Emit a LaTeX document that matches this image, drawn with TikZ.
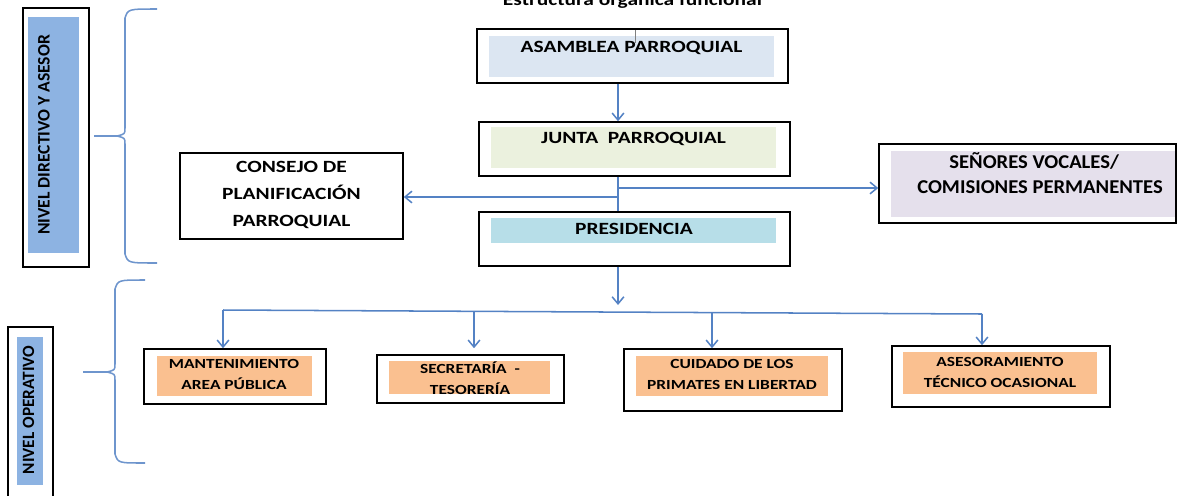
\documentclass[tikz,border=0pt]{standalone}
\usepackage{fontspec}
\setmainfont{Carlito}
\usetikzlibrary{arrows.meta}

\definecolor{azul}{RGB}{84,130,196}
\definecolor{nivel}{RGB}{141,179,226}
\definecolor{asamb}{RGB}{220,230,242}
\definecolor{junta}{RGB}{235,241,222}
\definecolor{presi}{RGB}{183,222,232}
\definecolor{vocal}{RGB}{229,224,236}
\definecolor{naranja}{RGB}{250,192,144}

\begin{document}
\begin{tikzpicture}[x=0.03cm, y=-0.03cm,
    caja/.style 2 args={draw=black, line width=1.3pt, inner sep=0pt,
      minimum width=#1*0.03cm, minimum height=#2*0.03cm},
    grande/.style={font=\fontsize{18.3}{28.3}\bfseries\selectfont, align=center, inner sep=0pt, yscale=0.8},
    vocales/.style={font=\fontsize{17.6}{21.6}\bfseries\selectfont, align=center, inner sep=0pt, yscale=0.95},
    chica/.style={font=\fontsize{14.85}{22.4}\bfseries\selectfont, align=center, inner sep=0pt, yscale=0.8},
    lateral/.style={font=\fontsize{#1}{#1}\bfseries\selectfont, inner sep=0pt, rotate=90},
    linea/.style={draw=azul, line width=1.3pt},
    flecha/.style={linea, ->},
    llave/.style={draw=azul!85, line width=1.3pt}]
  \tikzset{>={Straight Barb[length=6pt,width=10pt]}}
  \useasboundingbox (0,0) rectangle (1177,495);
  \clip (0,0) rectangle (1177,495);

  % titulo (cortado arriba)
  \node[grande, anchor=base] (titulo) at (632.5,5) {Estructura orgánica funcional};

  % rellenos
  \fill[nivel] (28,17) rectangle (79,253);
  \fill[nivel] (17,337) rectangle (43,485);
  \fill[asamb] (489,36) rectangle (774,77);
  \fill[junta] (491,127) rectangle (776,168);
  \fill[presi] (491,218) rectangle (776,243);
  \fill[vocal] (891,151) rectangle (1176,217);
  \fill[naranja] (157,356) rectangle (312,396);
  \fill[naranja] (389,361) rectangle (550,394);
  \fill[naranja] (636,356) rectangle (828,396);
  \fill[naranja] (903,352) rectangle (1097,394);
  \draw[gray, line width=0.4pt] (635,30) -- (635,43);

  % cajas
  \node[caja={66}{259}] (directivo) at (56,137.5) {};
  \node[caja={45}{178}] (operativo) at (30.5,416) {};
  \node[caja={311}{54}] (asamblea) at (632.5,56) {};
  \node[caja={311}{54}] (junta) at (634.5,149) {};
  \node[caja={311}{54}] (presidencia) at (634.5,239) {};
  \node[caja={223}{86}] (consejo) at (291.5,196) {};
  \node[caja={297}{79}] (senores) at (1027.5,183.5) {};
  \node[caja={182}{55}] (mant) at (235,376.5) {};
  \node[caja={187}{48}] (secre) at (470.5,379) {};
  \node[caja={218}{62}] (cuidado) at (733,380) {};
  \node[caja={218}{61}] (aseso) at (1001,376.5) {};

  % textos (base = ultima linea)
  \node[lateral=15] (t-directivo) at (44,135) {NIVEL DIRECTIVO Y ASESOR};
  \node[lateral=14.7] (t-operativo) at (28.5,410) {NIVEL OPERATIVO};
  \node[grande, anchor=base] (t-asamblea) at (631.5,52) {ASAMBLEA PARROQUIAL};
  \node[grande, anchor=base] (t-junta) at (633.5,143) {JUNTA\ \ PARROQUIAL};
  \node[grande, anchor=base] (t-presidencia) at (634,234) {PRESIDENCIA};
  \node[grande, anchor=base] (t-consejo) at (291.5,226) {CONSEJO DE\\PLANIFICACIÓN\\PARROQUIAL};
  \node[vocales, anchor=base] (t-senores) at (1040,193) {SEÑORES VOCALES/\kern 10pt\\COMISIONES PERMANENTES};
  \node[chica, anchor=base] (t-mant) at (234,389) {MANTENIMIENTO\\AREA PÚBLICA};
  \node[chica, anchor=base] (t-secre) at (470,394) {SECRETARÍA\ \ -\\TESORERÍA};
  \node[chica, anchor=base] (t-cuidado) at (732,389) {CUIDADO DE LOS\\PRIMATES EN LIBERTAD};
  \node[chica, anchor=base] (t-aseso) at (1000,387) {ASESORAMIENTO\\TÉCNICO OCASIONAL};

  % llaves
  \draw[llave] (157,9) .. controls (128,9) .. (125,18) -- (125,128)
    .. controls (125,134) .. (117,136) -- (94,136);
  \draw[llave] (117,136) .. controls (125,138) .. (125,144) -- (125,254)
    .. controls (128,263) .. (157,263);
  \draw[llave] (145,280) .. controls (118,280) .. (115,289) -- (115,364)
    .. controls (115,370) .. (107,372) -- (83,372);
  \draw[llave] (107,372) .. controls (115,374) .. (115,380) -- (115,454)
    .. controls (118,463) .. (145,463);

  % conectores
  \coordinate (eje) at (618,0);
  \coordinate (der) at (618,188);
  \coordinate (izq) at (618,197);
  \coordinate (baja) at (618,305);
  \draw[flecha] (asamblea.south -| eje) -- (junta.north -| eje);
  \draw[linea] (junta.south -| eje) -- (presidencia.north -| eje);
  \draw[flecha] (der) -- (senores.west |- der);
  \draw[flecha] (izq) -- (consejo.east |- izq);
  \draw[flecha] (presidencia.south -| eje) -- (baja);
  \coordinate (ini) at (223,310);
  \coordinate (fin) at (982,314);
  \draw[linea] (ini) -- (fin);
  \foreach \dest/\px/\py/\gap in {mant/223/310/0, secre/474/311/6, cuidado/712/312/0, aseso/982/314/0} {
    \coordinate (r-\dest) at (\px,\py);
    \draw[flecha, shorten >=\gap*0.03cm] (r-\dest) -- (r-\dest |- \dest.north);
  }
\end{tikzpicture}
\end{document}
